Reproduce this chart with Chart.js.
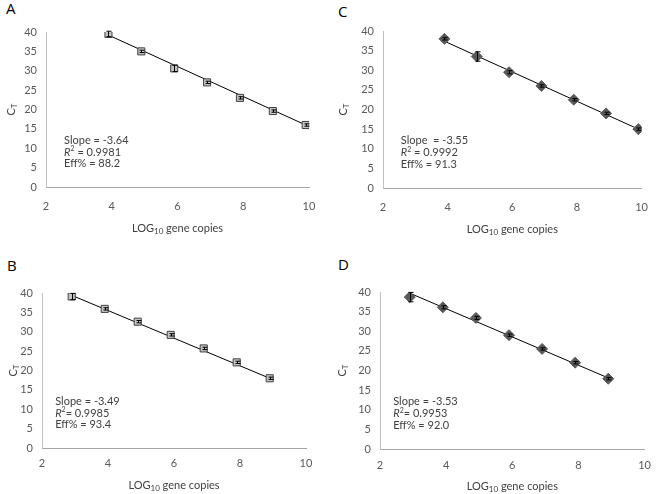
<!DOCTYPE html>
<html>
<head>
<meta charset="utf-8">
<script src="https://cdn.jsdelivr.net/npm/chart.js@4.4.1/dist/chart.umd.min.js"></script>
<style>
  body { margin: 0; background: #fff; width: 661px; height: 494px; position: relative; overflow: hidden; font-family: Lato, sans-serif; }
  .panel { position: absolute; }
  .tag { position: absolute; font-size: 15px; color: #000; line-height: 1; font-family: "Open Sans", sans-serif; }
</style>
</head>
<body>
<div class="tag" style="left:6px;top:1px">A</div>
<div class="tag" style="left:338px;top:4px">C</div>
<div class="tag" style="left:7px;top:258px">B</div>
<div class="tag" style="left:338px;top:257px">D</div>
<div class="panel" style="left:0;top:0;width:330px;height:245px"><canvas id="cA"></canvas></div>
<div class="panel" style="left:330px;top:0;width:331px;height:245px"><canvas id="cC"></canvas></div>
<div class="panel" style="left:0;top:245px;width:330px;height:249px"><canvas id="cB"></canvas></div>
<div class="panel" style="left:330px;top:245px;width:331px;height:249px"><canvas id="cD"></canvas></div>
<script>
/* ---------- data ---------- */
const xTop    = [3.9, 4.9, 5.9, 6.9, 7.9, 8.9, 9.9];   // A, C
const xBottom = [2.9, 3.9, 4.9, 5.9, 6.9, 7.9, 8.9];   // B, D

const ctA  = [39.5, 35.0, 30.6, 27.0, 23.0, 19.6, 16.0];
const errA = [0.7, 0.3, 0.8, 0.3, 0.3, 0.3, 0.3];
const fitA = [39.2, 16.0];

const ctC  = [38.0, 33.5, 29.5, 26.0, 22.5, 19.0, 15.0];
const errC = [0.3, 1.2, 0.4, 0.3, 0.3, 0.3, 0.3];
const fitC = [37.4, 15.0];

const ctB  = [39.1, 35.9, 32.6, 29.2, 25.7, 22.1, 18.0];
const errB = [0.8, 0.3, 0.3, 0.3, 0.3, 0.3, 0.3];
const fitB = [39.4, 18.0];

const ctD  = [38.7, 36.1, 33.4, 29.0, 25.5, 22.0, 17.9];
const errD = [1.2, 0.4, 0.4, 0.3, 0.3, 0.3, 0.3];
const fitD = [39.7, 18.1];

const slopes = { A: 'Slope = -3.64', C: 'Slope  = -3.55', B: 'Slope = -3.49', D: 'Slope = -3.53' };
const r2     = { A: ' = 0.9981', C: ' = 0.9992', B: '= 0.9985', D: '= 0.9953' };
const effs   = { A: 'Eff% = 88.2', C: 'Eff% = 91.3', B: 'Eff% = 93.4', D: 'Eff% = 92.0' };

const xTicks = [2, 4, 6, 8, 10];
const yTicks = [0, 5, 10, 15, 20, 25, 30, 35, 40];

/* ---------- style ---------- */
const TXT = '#595959';
const FONT = 'Lato, sans-serif';

/* ---------- helpers ---------- */
function drawRuns(ctx, x, y, runs) {
  let cx = x;
  runs.forEach(r => {
    ctx.font = r.font;
    ctx.fillText(r.t, cx, y + (r.dy || 0));
    cx += ctx.measureText(r.t).width;
  });
  return cx - x;
}
function runsWidth(ctx, runs) {
  let w = 0;
  runs.forEach(r => { ctx.font = r.font; w += ctx.measureText(r.t).width; });
  return w;
}

/* error bars, axis titles with subscripts, fit statistics */
const extras = {
  id: 'extras',
  afterDatasetsDraw(chart, args, o) {
    const { ctx, chartArea: a } = chart;
    const xs = chart.scales.x, ys = chart.scales.y;
    ctx.save();
    // error bars
    ctx.strokeStyle = '#000';
    ctx.lineWidth = 1;
    chart.getDatasetMeta(0).data.forEach((pt, i) => {
      const v = chart.data.datasets[0].data[i].y;
      const e = o.err[i];
      const y1 = ys.getPixelForValue(v + e), y2 = ys.getPixelForValue(v - e);
      const x = Math.round(pt.x) + 0.5;
      ctx.beginPath();
      ctx.moveTo(x, y1); ctx.lineTo(x, y2);
      ctx.moveTo(x - 2, y1); ctx.lineTo(x + 3, y1);
      ctx.moveTo(x - 2, y2); ctx.lineTo(x + 3, y2);
      ctx.stroke();
    });
    // x title: LOG10 gene copies
    ctx.fillStyle = '#404040';
    ctx.textBaseline = 'middle';
    ctx.textAlign = 'left';
    const xt = [
      { t: 'LOG', font: `11px ${FONT}` },
      { t: '10', font: `8px ${FONT}`, dy: 3 },
      { t: ' gene copies', font: `11px ${FONT}` },
    ];
    const w = runsWidth(ctx, xt);
    drawRuns(ctx, (a.left + a.right) / 2 - w / 2, a.bottom + o.titleOff, xt);
    // y title: CT
    ctx.save();
    ctx.translate(o.yTitleX, (a.top + a.bottom) / 2);
    ctx.rotate(-Math.PI / 2);
    const yt = [
      { t: 'C', font: `11px ${FONT}` },
      { t: 'T', font: `8px ${FONT}`, dy: 3 },
    ];
    drawRuns(ctx, -runsWidth(ctx, yt) / 2, 0, yt);
    ctx.restore();
    // stats
    const sx = xs.getPixelForValue(o.statX);
    const sy = ys.getPixelForValue(o.statY);
    const k = o.key;
    drawRuns(ctx, sx, sy, [{ t: slopes[k], font: `11px ${FONT}` }]);
    drawRuns(ctx, sx, sy + 11.7, [
      { t: 'R', font: `italic 11px ${FONT}` },
      { t: '2', font: `7px ${FONT}`, dy: -3 },
      { t: r2[k], font: `11px ${FONT}` },
    ]);
    drawRuns(ctx, sx, sy + 23.4, [{ t: effs[k], font: `11px ${FONT}` }]);
    ctx.restore();
  }
};

function makePanel(id, key, xs, ys, err, fit, marker, lay) {
  const pts = xs.map((x, i) => ({ x, y: ys[i] }));
  const line = [{ x: xs[0], y: fit[0] }, { x: xs[xs.length - 1], y: fit[1] }];
  const square = marker === 'square';
  new Chart(document.getElementById(id), {
    type: 'scatter',
    data: {
      datasets: [
        {
          data: pts,
          pointStyle: square ? 'rect' : 'rectRot',
          pointRadius: square ? 5 : 5.5,
          backgroundColor: square ? '#c4c4c4' : '#595959',
          borderColor: square ? '#404040' : '#595959',
          borderWidth: 1,
        },
        {
          data: line,
          showLine: true,
          pointRadius: 0,
          borderColor: '#000',
          borderWidth: 1,
        },
      ]
    },
    options: {
      responsive: true,
      maintainAspectRatio: false,
      animation: false,
      layout: { padding: { top: lay.top, right: lay.right, left: 0, bottom: 0 } },
      plugins: {
        legend: { display: false },
        tooltip: { enabled: false },
        extras: { err, key, titleOff: lay.titleOff, yTitleX: lay.yTitleX, statX: lay.statX, statY: 12 },
      },
      scales: {
        x: {
          type: 'linear', min: 2, max: 10,
          afterBuildTicks: s => { s.ticks = xTicks.map(v => ({ value: v })); },
          afterFit: s => { s.height = lay.xh; },
          ticks: { color: TXT, font: { size: 11, family: FONT }, padding: lay.tickPad, maxRotation: 0 },
          grid: { display: false, drawTicks: false },
          border: { color: '#a6a6a6', width: 1 },
        },
        y: {
          type: 'linear', min: 0, max: 40,
          afterBuildTicks: s => { s.ticks = yTicks.map(v => ({ value: v })); },
          afterFit: s => { s.width = lay.yw; },
          ticks: { color: TXT, font: { size: 11, family: FONT }, padding: 9 },
          grid: { display: false, drawTicks: false },
          border: { color: '#bfbfbf', width: 1 },
        }
      }
    },
    plugins: [extras]
  });
}

makePanel('cA', 'A', xTop, ctA, errA, fitA, 'square',
  { top: 32, right: 21, yw: 46, xh: 58, tickPad: 13, titleOff: 41, yTitleX: 11, statX: 2.55 });
makePanel('cC', 'C', xTop, ctC, errC, fitC, 'diamond',
  { top: 31, right: 8, yw: 53, xh: 57, tickPad: 13, titleOff: 41, yTitleX: 13, statX: 2.55 });
makePanel('cB', 'B', xBottom, ctB, errB, fitB, 'square',
  { top: 48, right: 24, yw: 42, xh: 46, tickPad: 9, titleOff: 37, yTitleX: 13, statX: 2.4 });
makePanel('cD', 'D', xBottom, ctD, errD, fitD, 'diamond',
  { top: 47, right: 11, yw: 50, xh: 45, tickPad: 10, titleOff: 37, yTitleX: 12, statX: 2.4 });
</script>
</body>
</html>
